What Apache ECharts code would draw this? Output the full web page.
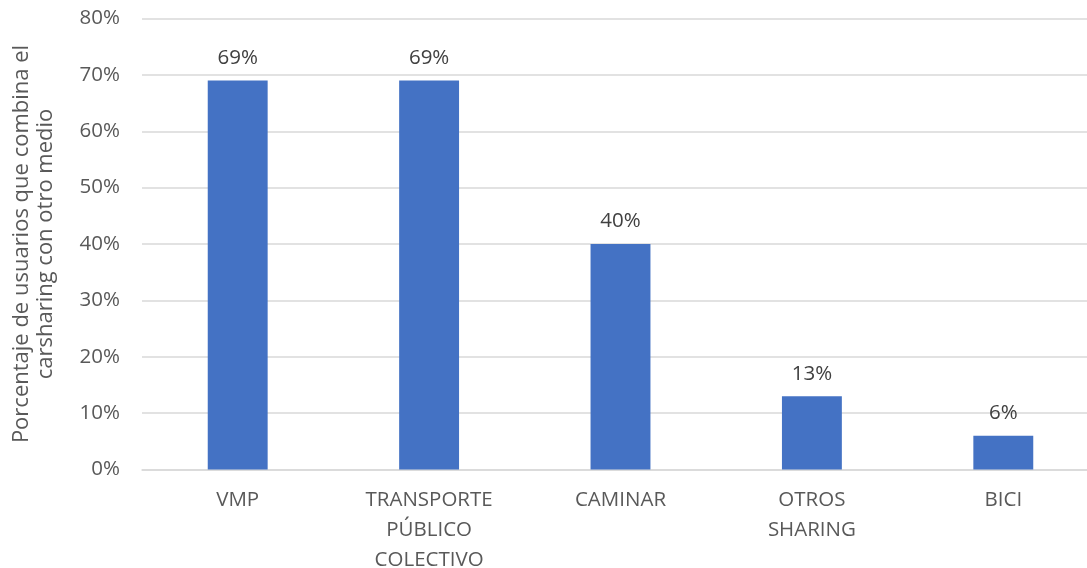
<!DOCTYPE html>
<html><head><meta charset="utf-8">
<script src="https://cdn.jsdelivr.net/npm/echarts@6/dist/echarts.min.js"></script>
<style>html,body{margin:0;padding:0;background:#fff}#c{width:1087px;height:568px}</style>
</head><body><div id="c"></div>
<script>
const categories = ['VMP', 'TRANSPORTE\nPÚBLICO\nCOLECTIVO', 'CAMINAR', 'OTROS\nSHARING', 'BICI'];
const values = [69, 69, 40, 13, 6];
const yTicks = [0, 10, 20, 30, 40, 50, 60, 70, 80];
const yTitle = 'Porcentaje de usuarios que combina el\ncarsharing con otro medio';
const font = 'Open Sans';
const chart = echarts.init(document.getElementById('c'));
chart.setOption({
  animation: false,
  textStyle: {fontFamily: font},
  grid: {left: 142, right: -12, top: 18.5, bottom: 98.5, outerBoundsMode: 'none', containLabel: false},
  xAxis: {
    type: 'category', data: categories,
    axisTick: {show: false},
    axisLine: {lineStyle: {color: '#d9d9d9', width: 1.5}},
    axisLabel: {color: '#595959', fontSize: 20.5, fontFamily: font, lineHeight: 30, margin: 16, interval: 0}
  },
  yAxis: {
    type: 'value', min: yTicks[0], max: yTicks[yTicks.length - 1], interval: 10,
    name: yTitle, nameLocation: 'middle', nameGap: 84, nameRotate: 90,
    nameTextStyle: {color: '#595959', fontSize: 22, fontFamily: font, lineHeight: 24},
    axisLabel: {color: '#595959', fontSize: 20.5, fontFamily: font, margin: 22, formatter: v => v + '%'},
    splitLine: {lineStyle: {color: '#d9d9d9', width: 1.5}},
    axisLine: {show: false}, axisTick: {show: false}
  },
  series: [{
    type: 'bar', data: values, barWidth: '31.3%',
    itemStyle: {color: '#4472C4'},
    label: {show: true, position: 'top', distance: 12, color: '#404040', fontSize: 20.5, fontFamily: font, formatter: p => p.value + '%'}
  }]
});
</script></body></html>
